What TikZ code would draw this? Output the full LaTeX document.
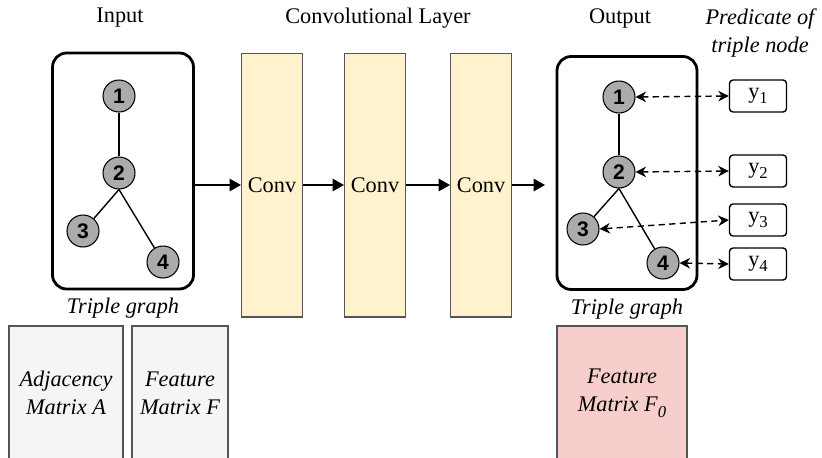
\documentclass[tikz,border=0pt]{standalone}
\usepackage{fontspec}
\setmainfont{LiberationSerif}[Extension=.ttf, UprightFont=*-Regular, BoldFont=*-Bold, ItalicFont=*-Italic, BoldItalicFont=*-BoldItalic]
\setsansfont{Liberation Sans}
\usetikzlibrary{positioning, arrows.meta, calc}

\definecolor{convfill}{HTML}{FFF2CC}
\definecolor{convline}{HTML}{555555}
\definecolor{matgray}{HTML}{F5F5F5}
\definecolor{matred}{HTML}{F8CECC}
\definecolor{vertexgray}{HTML}{ABABAB}

\newcommand{\lowsub}[1]{\raisebox{-0.55ex}{\fontsize{9.5}{9.5}\selectfont #1}}

\begin{document}
\begin{tikzpicture}[
	x=0.02cm, y=-0.02cm,
	font=\rmfamily\fontsize{12.7}{16}\selectfont,
	graphbox/.style={rectangle, draw, line width=1.6pt, rounded corners=8pt, minimum width=2.82cm, minimum height=4.72cm},
	vertex/.style={circle, draw, line width=0.6pt, fill=vertexgray, minimum size=0.64cm, inner sep=0pt, font=\fontsize{12}{12}\sffamily\bfseries},
	conv/.style={rectangle, draw=convline, line width=0.6pt, fill=convfill, minimum width=1.22cm, minimum height=5.28cm, inner sep=1pt},
	matbox/.style={rectangle, draw=convline, line width=0.6pt, minimum height=2.68cm, align=center, font=\rmfamily\fontsize{12.7}{16}\selectfont\itshape},
	predbox/.style={rectangle, draw, line width=0.8pt, rounded corners=2pt, minimum width=1.14cm, minimum height=0.64cm, inner sep=0pt},
	arrow/.style={line width=1.1pt, -{Triangle[length=6.5pt, width=7pt]}},
	dasharrow/.style={line width=0.8pt, dash pattern=on 3.5pt off 2.5pt, {Stealth[length=6pt, width=6pt]}-{Stealth[length=6pt, width=6pt]}},
	edge/.style={line width=0.8pt}
	]
	\useasboundingbox (0,0) rectangle (822,457);
	
	% Titles
	\node (tin) at (120,18) {Input};
	\node (tconv) at (378,18) {Convolutional Layer};
	\node (tout) at (620,18) {Output};
	\node[align=center, font=\rmfamily\fontsize{12.7}{16}\selectfont\itshape] (tpred) at (760,33) {Predicate of\\triple node};
	
	% Input graph
	\node[graphbox] (gin) at (123,171) {};
	\node[vertex] (a1) at (119,96) {1};
	\node[vertex] (a2) at (119,173) {2};
	\node[vertex] (a3) at (83,231) {3};
	\node[vertex] (a4) at (163,262) {4};
	\draw[edge] (a1) -- (a2);
	\draw[edge] (a2.south) -- (a3);
	\draw[edge] (a2.south) -- (a4);
	\node[below=1pt of gin, font=\rmfamily\fontsize{12.7}{16}\selectfont\itshape] (lin) {Triple graph};
	
	% Conv layers
	\node[conv] (c1) at (272,185) {Conv};
	\node[conv, right=0.82cm of c1] (c2) {Conv};
	\node[conv, right=0.88cm of c2] (c3) {Conv};
	
	% Output graph
	\node[graphbox, minimum width=2.8cm, minimum height=4.66cm] (gout) at (627,173) {};
	\node[vertex] (b1) at (619,97) {1};
	\node[vertex] (b2) at (619,172) {2};
	\node[vertex] (b3) at (583,229) {3};
	\node[vertex] (b4) at (663,263) {4};
	\draw[edge] (b1) -- (b2);
	\draw[edge] (b2.south) -- (b3);
	\draw[edge] (b2.south) -- (b4);
	\node[below=1pt of gout, font=\rmfamily\fontsize{12.7}{16}\selectfont\itshape] (lout) {Triple graph};
	
	% Predicates
	\node[predbox] (p1) at (758,96) {y\lowsub{1}};
	\node[predbox] (p2) at (758,171) {y\lowsub{2}};
	\node[predbox] (p3) at (758,220) {y\lowsub{3}};
	\node[predbox] (p4) at (758,264) {y\lowsub{4}};
	
	% Matrices
	\node[matbox, fill=matgray, minimum width=2.28cm] (madj) at (66,393) {Adjacency\\Matrix A};
	\node[matbox, fill=matgray, minimum width=1.92cm] (mfeat) at (180,393) {Feature\\Matrix F};
	\node[matbox, fill=matred, minimum width=2.6cm] (mout) at (622,393) {Feature\\Matrix F\lowsub{0}};
	
	% Arrows
	\draw[arrow] (gin.east |- c1) -- (c1.west);
	\draw[arrow] (c1) -- (c2);
	\draw[arrow] (c2) -- (c3);
	\draw[arrow, shorten >=6pt] (c3.east) -- (gout.west |- c3);
	
	\draw[dasharrow] (b1.east) -- (p1.west);
	\draw[dasharrow] (b2.east) -- (p2.west);
	\draw[dasharrow] (b3.east) -- (p3.west);
	\draw[dasharrow] (b4.east) -- (p4.west);
	
\end{tikzpicture}
\end{document}
